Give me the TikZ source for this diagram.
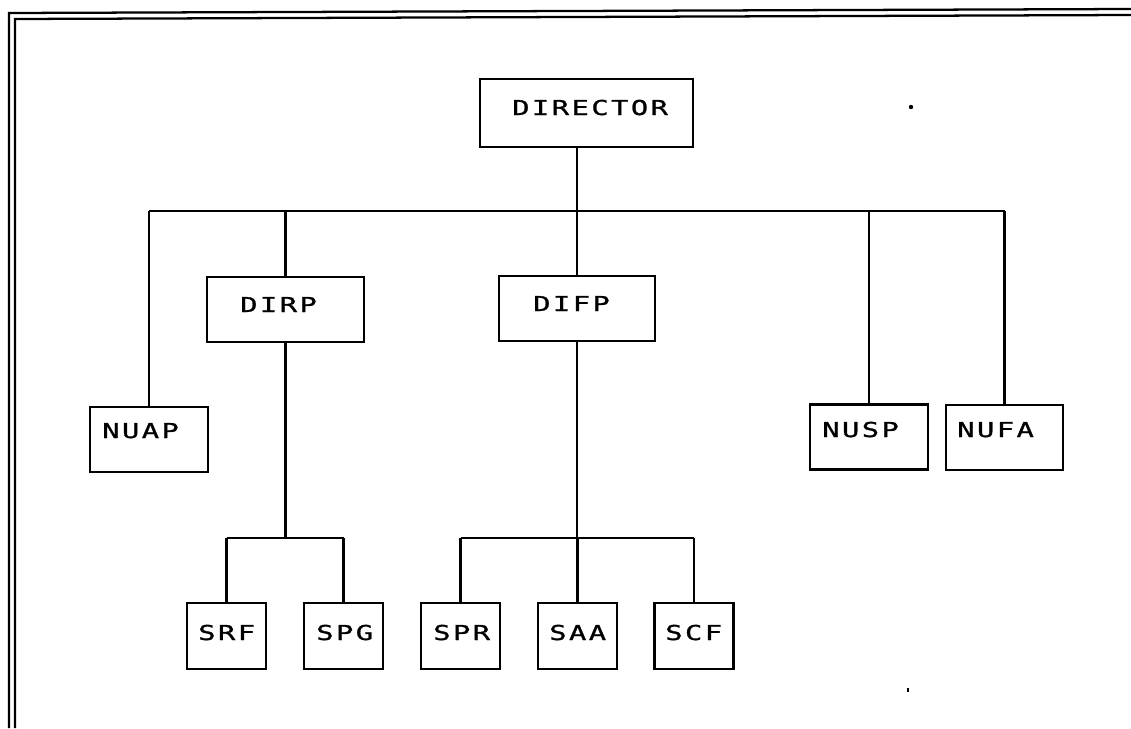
\documentclass[tikz,border=0pt]{standalone}
\usepackage{fontspec}
\newfontfamily\plotfont[FakeStretch=1.4,LetterSpace=12,FakeBold=1.2]{DejaVu Sans Mono}
\begin{document}
\begin{tikzpicture}[x=0.75pt,y=-0.75pt,
  box/.style={draw, line width=1.7pt, inner sep=0pt, minimum width=#1*0.75pt, minimum height=48.75pt},
  tall/.style={minimum height=#1*0.75pt},
  lbl/.style={anchor=base west, inner sep=0pt, font=\plotfont\fontsize{15.4pt}{18pt}\selectfont},
  link/.style={line width=1.7pt},
  frame/.style={line width=1.7pt}]
\useasboundingbox (0,0) rectangle (1131,728);

% double frame (left and top edges)
\draw[frame] (9,728) -- (9,13) -- (1131,9);
\draw[frame] (15,728) -- (15,19) -- (1131,15);

% boxes
\node[box=213, tall=68] (director) at (586.5,113) {};
\node[box=157] (dirp) at (285.5,309.5) {};
\node[box=156] (difp) at (577,308.5) {};
\node[box=118] (nuap) at (149,439.5) {};
\node[box=118] (nusp) at (869,437) {};
\node[box=117] (nufa) at (1004.5,437.5) {};
\node[box=79, tall=66] (srf) at (226.5,636) {};
\node[box=79, tall=66] (spg) at (343.5,636) {};
\node[box=79, tall=66] (spr) at (460.5,636) {};
\node[box=79, tall=66] (saa) at (577.5,636) {};
\node[box=79, tall=66] (scf) at (694,636) {};

% labels
\node[lbl] (director-t) at (512,115) {DIRECTOR};
\node[lbl] (dirp-t) at (240,312) {DIRP};
\node[lbl] (difp-t) at (533,311) {DIFP};
\node[lbl] (nuap-t) at (102,438) {NUAP};
\node[lbl] (nusp-t) at (822,437) {NUSP};
\node[lbl] (nufa-t) at (957,437) {NUFA};
\node[lbl] (srf-t) at (198,640) {SRF};
\node[lbl] (spg-t) at (316,640) {SPG};
\node[lbl] (spr-t) at (433,640) {SPR};
\node[lbl] (saa-t) at (549,640) {SAA};
\node[lbl] (scf-t) at (665,640) {SCF};

% bus levels
\coordinate (top-bus) at (0,211);
\coordinate (low-bus) at (0,538);

% director to first level
\draw[link] (director.south -| difp.north) -- (difp.north);
\draw[link] (nuap.north |- top-bus) -- (nufa.north |- top-bus);
\draw[link] (nuap.north |- top-bus) -- (nuap.north);
\draw[link] (dirp.north |- top-bus) -- (dirp.north);
\draw[link] (nusp.north |- top-bus) -- (nusp.north);
\draw[link] (nufa.north |- top-bus) -- (nufa.north);

% DIRP branch
\draw[link] (dirp.south) -- (dirp.south |- low-bus);
\draw[link] (srf.north |- low-bus) -- (spg.north |- low-bus);
\draw[link] (srf.north |- low-bus) -- (srf.north);
\draw[link] (spg.north |- low-bus) -- (spg.north);

% DIFP branch
\draw[link] (difp.south) -- (difp.south |- low-bus);
\draw[link] (spr.north |- low-bus) -- (scf.north |- low-bus);
\draw[link] (spr.north |- low-bus) -- (spr.north);
\draw[link] (saa.north |- low-bus) -- (saa.north);
\draw[link] (scf.north |- low-bus) -- (scf.north);

% stray marks
\fill (911,107) circle (2.2);
\fill (907,688) rectangle (909,692);
\end{tikzpicture}
\end{document}
